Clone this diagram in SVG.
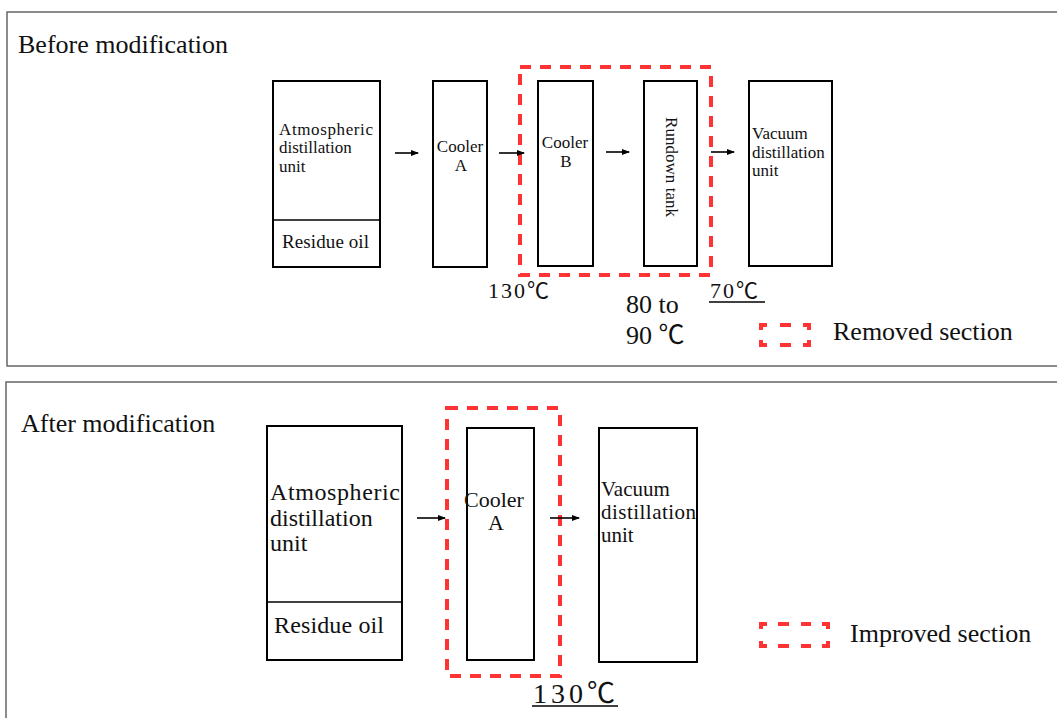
<svg xmlns="http://www.w3.org/2000/svg" width="1057" height="718" viewBox="0 0 1057 718">
<style>
  text { font-family: "Liberation Serif", "Times New Roman", "Noto Sans CJK JP", serif; fill: #111; }
  .cjk { font-family: "Noto Sans CJK JP", "Liberation Serif", sans-serif; font-weight: 300; }
  .panel { fill: none; stroke: #666; stroke-width: 1.5; }
  .box { fill: #fff; stroke: #000; stroke-width: 2; }
  .div { stroke: #000; stroke-width: 1.5; }
  .red { fill: none; stroke: #ff3333; stroke-width: 4; stroke-dasharray: 11 9; }
  .redl { fill: none; stroke: #ff3333; stroke-width: 4; }
  .arr { stroke: #000; stroke-width: 1.6; fill: none; marker-end: url(#ah); }
  .t17 { font-size: 17px; }
  .t21 { font-size: 21px; }
  .t22 { font-size: 22px; }
  .t24 { font-size: 24px; }
  .t26 { font-size: 26px; }
  .ul { stroke: #000; stroke-width: 1.5; }
</style>
<defs>
  <marker id="ah" markerWidth="8" markerHeight="8" refX="7" refY="4" orient="auto" markerUnits="userSpaceOnUse">
    <path d="M0,1 L8,4 L0,7 Z" fill="#000"/>
  </marker>
</defs>
<rect width="1057" height="718" fill="#fff"/>

<!-- panels -->
<rect class="panel" x="7" y="12" width="1070" height="354"/>
<rect class="panel" x="6" y="382" width="1070" height="350"/>
<text class="t26" x="18" y="53">Before modification</text>
<text class="t26" x="21" y="432">After modification</text>

<!-- ===== Before ===== -->
<g id="atm1">
  <rect class="box" x="273" y="81" width="107" height="186"/>
  <line class="div" x1="273" y1="220" x2="380" y2="220"/>
  <text class="t17" x="279" y="135" textLength="94">Atmospheric</text>
  <text class="t17" x="279" y="153">distillation</text>
  <text class="t17" x="279" y="172">unit</text>
  <text x="282" y="248" font-size="19" textLength="87">Residue oil</text>
</g>
<g id="coolerA1">
  <rect class="box" x="433" y="81" width="54" height="186"/>
  <text class="t17" x="460" y="152" text-anchor="middle">Cooler</text>
  <text class="t17" x="461" y="171" text-anchor="middle">A</text>
</g>
<g id="coolerB1">
  <rect class="box" x="538" y="81" width="55" height="185"/>
  <text class="t17" x="565" y="148" text-anchor="middle">Cooler</text>
  <text class="t17" x="566" y="167" text-anchor="middle">B</text>
</g>
<g id="rundown">
  <rect class="box" x="644" y="81" width="53" height="185"/>
  <text class="t17" transform="translate(666,167) rotate(90)" text-anchor="middle" textLength="100">Rundown tank</text>
</g>
<g id="vac1">
  <rect class="box" x="749" y="81" width="83" height="185"/>
  <text class="t17" x="752" y="139">Vacuum</text>
  <text class="t17" x="752" y="158">distillation</text>
  <text class="t17" x="752" y="176">unit</text>
</g>
<g id="removed">
  <rect class="red" x="520" y="67" width="191" height="208"/>
</g>

<!-- ===== After ===== -->
<g id="atm2">
  <rect class="box" x="267" y="426" width="135" height="234"/>
  <line class="div" x1="267" y1="602" x2="402" y2="602"/>
  <text class="t24" x="270" y="500" textLength="130">Atmospheric</text>
  <text class="t24" x="270" y="526">distillation</text>
  <text class="t24" x="270" y="551">unit</text>
  <text class="t24" x="274" y="633" textLength="110">Residue oil</text>
</g>
<g id="coolerA2">
  <rect class="box" x="467" y="428" width="67" height="232"/>
  <text class="t22" x="494" y="507" text-anchor="middle">Cooler</text>
  <text class="t22" x="496" y="530" text-anchor="middle">A</text>
</g>
<g id="vac2">
  <rect class="box" x="599" y="428" width="98" height="234"/>
  <text class="t21" x="601" y="496">Vacuum</text>
  <text class="t21" x="601" y="519" textLength="95">distillation</text>
  <text class="t21" x="601" y="542">unit</text>
</g>
<g id="improved">
  <rect class="red" x="447" y="408" width="113" height="268"/>
</g>

<!-- connectors -->
<g id="connectors">
  <line class="arr" x1="395" y1="153" x2="418" y2="153"/>
  <line class="arr" x1="499" y1="153" x2="524" y2="153"/>
  <line class="arr" x1="606" y1="152" x2="629" y2="152"/>
  <line class="arr" x1="711" y1="152" x2="734" y2="152"/>
  <line class="arr" x1="417" y1="518" x2="445" y2="518"/>
  <line class="arr" x1="550" y1="518" x2="579" y2="518"/>
</g>

<!-- temperatures -->
<text x="488" y="298" font-size="22" letter-spacing="2">130℃</text>
<text x="626" y="313" font-size="26">80 to</text>
<text x="626" y="344" font-size="26">90 ℃</text>
<text x="710" y="298" font-size="22" letter-spacing="2">70℃</text>
<line class="ul" x1="709" y1="302" x2="765" y2="302"/>
<text x="533" y="703" font-size="28" letter-spacing="4">130℃</text>
<line class="ul" x1="532" y1="706" x2="618" y2="706"/>

<!-- legends -->
<g id="legend1">
  <path class="redl" d="M761,330 V325 H767 M780,325 H791 M803,325 H809 V330 M761,340 V345 H767 M780,345 H791 M803,345 H809 V340"/>
  <text class="t26" x="833" y="340">Removed section</text>
</g>
<g id="legend2">
  <path class="redl" d="M761,629 V624 H767 M778,624 H789 M801,624 H811 M822,624 H828 V629 M761,641 V646 H767 M778,646 H789 M801,646 H811 M822,646 H828 V641"/>
  <text class="t26" x="850" y="642">Improved section</text>
</g>
</svg>
